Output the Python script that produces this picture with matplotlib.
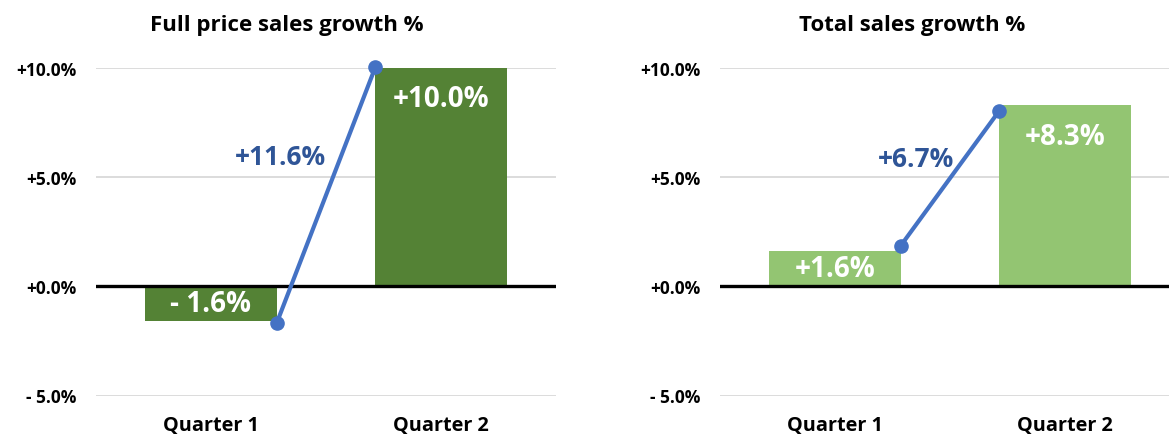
import numpy as np
import matplotlib.pyplot as plt

plt.rcParams['font.family'] = ['Open Sans', 'DejaVu Sans']

# Data
quarters = ['Quarter 1', 'Quarter 2']
titles = ['Full price sales growth %', 'Total sales growth %']
bar_values = [[-1.6, 10.0], [1.6, 8.3]]
line_values = [[-1.7, 10.05], [1.85, 8.05]]
change_labels = ['+11.6%', '+6.7%']
bar_colors = ['#548235', '#93C572']
yticks = [-5, 0, 5, 10]

line_color = '#4472C4'
label_blue = '#2F5597'
bar_width = 0.57


def pct(v):
    if v < 0:
        return '- %.1f%%' % abs(v)
    return '+%.1f%%' % v


fig = plt.figure(figsize=(11.69, 4.39), dpi=100)
W, H = 1169., 439.
y0 = (H - 396.5) / H
y1 = (H - 69) / H
axes_px = [(96, 556), (720, 1180)]
title_x = [287, 912]
label_offsets = [(-46, 39), (-34, 20)]  # pixels from line midpoint

for i in range(2):
    xa, xb = axes_px[i]
    ax = fig.add_axes([xa / W, y0, (xb - xa) / W, y1 - y0])
    x = np.arange(len(quarters))
    vals = bar_values[i]
    ax.bar(x, vals, width=bar_width, color=bar_colors[i], zorder=2)

    # line connecting bar edges
    lx = [x[0] + bar_width / 2, x[1] - bar_width / 2]
    ax.plot(lx, line_values[i], color=line_color, lw=3, marker='o',
            markersize=9.5, zorder=4, clip_on=False)

    # change label
    mx = np.mean(lx)
    my = np.mean(line_values[i])
    dx, dy = label_offsets[i]
    ax.annotate(change_labels[i], (mx, my), xytext=(dx * 0.72, dy * 0.72),
                textcoords='offset points', ha='center', va='center',
                fontsize=19, fontweight='bold', color=label_blue, zorder=5)

    # bar value labels
    for xi, v in zip(x, vals):
        if abs(v) < 3:
            ax.text(xi, v / 2, pct(v), ha='center', va='center',
                    fontsize=20, fontweight='bold', color='white', zorder=3)
        else:
            ax.annotate(pct(v), (xi, v), xytext=(0, -31 * 0.72),
                        textcoords='offset points', ha='center', va='center',
                        fontsize=20, fontweight='bold', color='white', zorder=3)

    ax.set_xlim(-0.5, 1.5)
    ax.set_ylim(-5, 10)
    ax.set_yticks(yticks)
    ax.set_yticklabels([pct(t) for t in yticks], fontsize=12.5, fontweight='bold')
    ax.set_xticks(x)
    ax.set_xticklabels(quarters, fontsize=14.3, fontweight='bold')
    ax.tick_params(axis='y', length=0, pad=14)
    ax.tick_params(axis='x', length=0, pad=14)
    for s in ax.spines.values():
        s.set_visible(False)
    ax.grid(axis='y', color='#D9D9D9', lw=1.3, zorder=0)
    ax.axhline(0, color='black', lw=2.4, zorder=3)
    ax.set_axisbelow(True)

    fig.text(title_x[i] / W, 1 - 25 / H, titles[i], ha='center', va='center',
             fontsize=16, fontweight='bold')

plt.savefig('out.png', dpi=100)
